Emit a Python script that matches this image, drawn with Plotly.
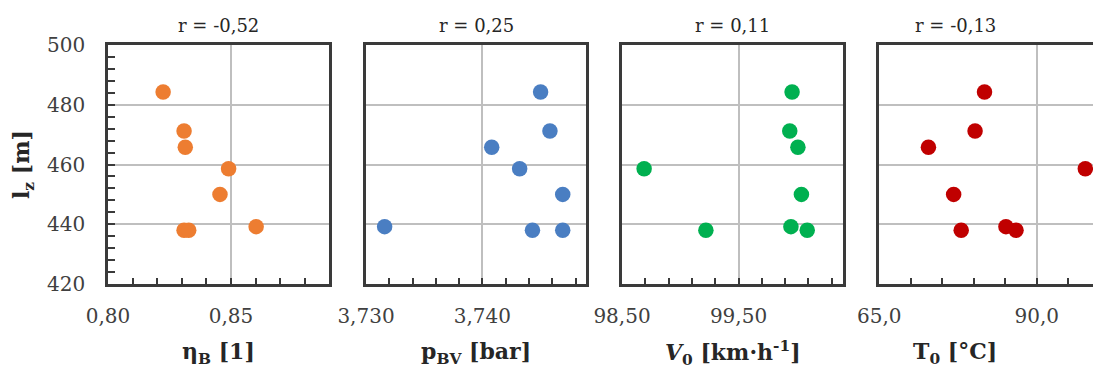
import plotly.graph_objects as go

# ---- data ----
lz = [484.3, 471.2, 465.8, 458.6, 450.0, 439.2, 438.0, 438.0]
etaB = [0.8224, 0.8309, 0.8314, 0.8490, 0.8455, 0.8602, 0.8309, 0.8328]
pBV = [3.7450, 3.7458, 3.7408, 3.7432, 3.7469, 3.7316, 3.7443, 3.7469]
V0 = [99.96, 99.94, 100.01, 98.69, 100.04, 99.95, 99.22, 100.09]
T0 = [81.7, 80.2, 72.8, 97.7, 76.8, 85.1, 78.0, 86.7]

r_labels = ["r = -0,52", "r = 0,25", "r = 0,11", "r = -0,13"]
x_titles = ["<b>η<sub>B</sub> [1]</b>", "<b>p<sub>BV</sub> [bar]</b>",
            "<b><i>V</i><sub>0</sub> [km·h<sup>-1</sup>]</b>", "<b>T<sub>0</sub> [°C]</b>"]
y_title = "<b>l<sub>z</sub> [m]</b>"
colors = ["#ED7D31", "#4A7EC2", "#00B050", "#C00000"]

xs = [etaB, pBV, V0, T0]
x_ranges = [[0.80, 0.8898], [3.730, 3.7489], [98.50, 100.397], [65.0, 98.92]]
x_dticks = [0.05, 0.01, 1.0, 25.0]
x_minor = [0.01, 0.002, 0.2, 5.0]
x_formats = [".2f", ".3f", ".2f", ".1f"]

W, H = 1093, 368
px_domains = [(108, 329), (366, 586), (622, 843), (879.3, 1093)]
label_cx = [218.5, 476, 732.5, 955]
top_px, bot_px = 45, 284

FRAME = "#3A3A3A"
GRID = "#BFBFBF"
FONT = "DejaVu Serif"

fig = go.Figure()
layout = dict(
    template="none",
    width=W, height=H, margin=dict(l=0, r=0, t=0, b=0, autoexpand=False),
    paper_bgcolor="white", plot_bgcolor="white",
    showlegend=False, separators=", ",
    font=dict(family=FONT, size=20, color="#404040"),
)
annotations = []

for i in range(4):
    n = "" if i == 0 else str(i + 1)
    fig.add_trace(go.Scatter(
        x=xs[i], y=lz, mode="markers",
        marker=dict(size=15.5, color=colors[i], line=dict(width=0)),
        xaxis="x" + n, yaxis="y" + n, cliponaxis=False,
    ))
    d0, d1 = px_domains[i]
    layout["xaxis" + n] = dict(
        domain=[d0 / W, min(d1 / W, 1.0)], anchor="y" + n,
        range=x_ranges[i], tick0=x_ranges[i][0], dtick=x_dticks[i],
        tickformat=x_formats[i], automargin=False,
        showgrid=True, gridcolor=GRID, gridwidth=1.5,
        showline=True, linecolor=FRAME, linewidth=2.5, mirror=True,
        ticks="inside", ticklen=6, tickcolor=FRAME, tickwidth=1.5,
        minor=dict(dtick=x_minor[i], tick0=x_ranges[i][0], ticks="inside",
                   ticklen=6, tickcolor=FRAME, tickwidth=1.5, showgrid=False),
        ticklabelstandoff=12,
        tickfont=dict(family=FONT, size=20, color="#404040"),
        zeroline=False, fixedrange=True,
    )
    ydict = dict(
        domain=[1 - bot_px / H, 1 - top_px / H], anchor="x" + n,
        range=[420, 500], tick0=420, dtick=20, automargin=False,
        showgrid=True, gridcolor=GRID, gridwidth=1.5,
        showline=True, linecolor=FRAME, linewidth=2.5, mirror=(i < 3),
        zeroline=False, fixedrange=True,
    )
    if i == 0:
        ydict.update(
            ticks="inside", ticklen=7, tickcolor=FRAME, tickwidth=1.5,
            minor=dict(dtick=4, tick0=420, ticks="inside", ticklen=7,
                       tickcolor=FRAME, tickwidth=1.5, showgrid=False),
            ticklabelstandoff=16, tickformat="d",
            tickfont=dict(family=FONT, size=20, color="#404040"),
        )
    else:
        ydict.update(ticks="", showticklabels=False)
    layout["yaxis" + n] = ydict

    annotations.append(dict(
        text=r_labels[i], x=label_cx[i] / W, y=1 - 26 / H,
        xref="paper", yref="paper", showarrow=False,
        font=dict(family=FONT, size=18, color="#262626"),
        xanchor="center", yanchor="middle"))
    annotations.append(dict(
        text=x_titles[i], x=label_cx[i] / W, y=1 - 353 / H,
        xref="paper", yref="paper", showarrow=False,
        font=dict(family=FONT, size=22, color="#262626"),
        xanchor="center", yanchor="middle"))

annotations.append(dict(
    text=y_title, x=23 / W, y=1 - 165 / H, xref="paper", yref="paper",
    showarrow=False, textangle=-90,
    font=dict(family=FONT, size=22, color="#262626"),
    xanchor="center", yanchor="middle"))

layout["annotations"] = annotations
fig.update_layout(**layout)
fig.write_html("out.html")
